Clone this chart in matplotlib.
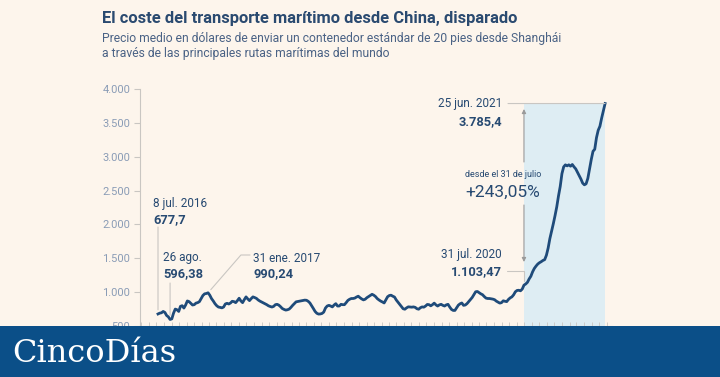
import matplotlib
matplotlib.use('Agg')
import matplotlib.pyplot as plt
import matplotlib.dates as mdates
import matplotlib.transforms as mtrans
from matplotlib.patches import Rectangle
from matplotlib.ticker import FuncFormatter
import pandas as pd

# weekly container price, USD (8 jul. 2016 - 25 jun. 2021)
start_date = '2016-07-08'
values = [
    677.7, 690, 695, 715, 700, 655, 635, 596.38, 605, 690,
    750, 740, 715, 790, 800, 765, 810, 870, 860, 835,
    810, 815, 838, 845, 860, 905, 950, 975, 980, 990.24,
    955, 905, 870, 830, 800, 780, 775, 768, 780, 825,
    835, 825, 840, 865, 860, 845, 875, 910, 870, 845,
    890, 930, 900, 875, 905, 930, 920, 908, 885, 868,
    855, 842, 830, 815, 798, 788, 780, 790, 815, 820,
    808, 785, 758, 745, 735, 740, 750, 775, 805, 830,
    857, 862, 868, 872, 878, 882, 880, 865, 840, 800,
    758, 715, 688, 676, 678, 685, 705, 765, 795, 805,
    795, 782, 810, 830, 795, 795, 820, 815, 815, 845,
    878, 895, 906, 906, 912, 928, 940, 918, 900, 886,
    895, 918, 935, 952, 968, 955, 935, 905, 885, 868,
    855, 840, 885, 932, 950, 955, 940, 928, 885, 852,
    818, 788, 755, 748, 768, 783, 780, 778, 782, 775,
    755, 748, 770, 782, 778, 795, 818, 815, 798, 815,
    838, 812, 795, 812, 820, 805, 795, 812, 820, 780,
    745, 730, 730, 770, 808, 828, 840, 805, 810, 830,
    860, 890, 921, 962, 1005, 1010, 992, 975, 962, 935,
    912, 906, 906, 902, 897, 888, 867, 852, 838, 845,
    872, 865, 860, 892, 915, 930, 960, 1005, 1025, 1028,
    1020, 1045, 1103.47, 1120, 1145, 1195, 1235, 1300, 1350, 1385,
    1415, 1435, 1450, 1468, 1480, 1545, 1650, 1790, 1900, 2010,
    2130, 2260, 2420, 2560, 2750, 2850, 2880, 2865, 2880, 2860,
    2885, 2850, 2820, 2770, 2720, 2670, 2610, 2585, 2600, 2680,
    2820, 2960, 3080, 3110, 3280, 3390, 3450, 3570, 3680, 3785.4,
]
dates = pd.date_range(start_date, periods=len(values), freq='7D')
y_ticks = [500, 1000, 1500, 2000, 2500, 3000, 3500, 4000]
i_jul16, i_ago16, i_ene17, i_jul20 = 0, 7, 29, 212

BG = '#fdf5ec'
NAVY = '#274a72'
LINE = '#1f4b7a'
GRAY = '#c9c6c2'
SHADE = '#deedf3'
BAND = '#0b4f88'

W, H = 720, 377
fig = plt.figure(figsize=(W / 100, H / 100), dpi=100, facecolor=BG)
plt.rcParams['font.family'] = ['Roboto', 'DejaVu Sans']
# pixel coords measured from the top-left corner
P = mtrans.Affine2D().scale(1 / W, -1 / H).translate(0, 1) + fig.transFigure

ax = fig.add_axes([140 / W, (H - 326) / H, (612 - 140) / W, (326 - 89) / H])
ax.set_facecolor(BG)
d = mdates.date2num(dates)
ax.plot(d, values, color=LINE, lw=2.0, solid_joinstyle='round', zorder=3)
ax.fill_between([d[i_jul20], d[-1]], 0, values[-1], color=SHADE, lw=0, zorder=1)

ax.set_ylim(500, 4000)
ax.set_xlim(d[0] - 73, d[-1] + 28)
ax.set_yticks(y_ticks)
ax.yaxis.set_major_formatter(FuncFormatter(lambda v, p: f'{int(v):,}'.replace(',', '.')))
ax.tick_params(axis='y', length=4, width=0.8, color=GRAY, labelcolor='#8a9cb6',
               labelsize=8, pad=3)
ax.xaxis.set_major_locator(mdates.MonthLocator())
ax.tick_params(axis='x', length=3, width=0.6, color=GRAY, labelbottom=False, direction='in')
for s in ['top', 'right']:
    ax.spines[s].set_visible(False)
ax.spines['left'].set_color(GRAY)
ax.spines['bottom'].set_color(GRAY)

bx = mtrans.blended_transform_factory(ax.transData, P)
by = mtrans.blended_transform_factory(P, ax.transData)
lead = dict(arrowstyle='-', color=GRAY, lw=0.8, shrinkA=0, shrinkB=3)

ax.annotate('', xy=(d[i_jul16], values[i_jul16]), xytext=(d[i_jul16], 227),
            textcoords=bx, arrowprops=lead)
ax.annotate('', xy=(d[i_ago16], values[i_ago16]), xytext=(d[i_ago16], 283),
            textcoords=bx, arrowprops=lead)
ax.annotate('', xy=(d[i_ene17], values[i_ene17]), xytext=(250, 255), textcoords=P,
            arrowprops=dict(lead, connectionstyle='angle,angleA=0,angleB=49,rad=0'))
ax.annotate('', xy=(d[i_jul20], values[i_jul20]), xytext=(507, 271), textcoords=P,
            arrowprops=dict(lead, connectionstyle='angle,angleA=0,angleB=90,rad=0'))
ax.annotate('', xy=(d[-1], values[-1]), xytext=(508, values[-1]), textcoords=by,
            arrowprops=dict(lead, shrinkB=0))
arr = dict(arrowstyle='-|>', color='#9a9a9a', lw=0.8, mutation_scale=6, shrinkA=0, shrinkB=0)
ax.annotate('', xy=(d[i_jul20], 109), xycoords=bx, xytext=(d[i_jul20], 162),
            textcoords=bx, arrowprops=arr)
ax.annotate('', xy=(d[i_jul20], 262), xycoords=bx, xytext=(d[i_jul20], 205),
            textcoords=bx, arrowprops=arr)


def put(x, y, s, **kw):
    kw.setdefault('color', NAVY)
    kw.setdefault('size', 8.5)
    fig.text(x, y, s, transform=P, va='baseline', **kw)


put(102, 23, 'El coste del transporte marítimo desde China, disparado',
    size=11.9, weight='bold', color='#2a4a70')
put(102, 42, 'Precio medio en dólares de enviar un contenedor estándar de 20 pies desde Shanghái',
    size=8.7, color='#4a6285')
put(102, 57, 'a través de las principales rutas marítimas del mundo', size=8.7, color='#4a6285')

put(153, 207, '8 jul. 2016')
put(153, 223, '677,7', weight='bold', size=9.3)
put(163, 261, '26 ago.')
put(163, 277, '596,38', weight='bold', size=9.3)
put(253, 262, '31 ene. 2017')
put(253, 277, '990,24', weight='bold', size=9.3)
put(502, 107, '25 jun. 2021', ha='right')
put(502, 125, '3.785,4', weight='bold', size=9.3, ha='right')
put(503, 177, 'desde el 31 de julio', ha='center', size=6.5)
put(503, 197, '+243,05%', ha='center', size=12.5)
put(502, 258, '31 jul. 2020', ha='right')
put(502, 275, '1.103,47', weight='bold', size=9.3, ha='right')

fig.patches.append(Rectangle((0, 0), 1, 51 / H, transform=fig.transFigure,
                             facecolor=BAND, lw=0, zorder=10))
fig.text(12, 362, 'CincoDías', transform=P, family='DejaVu Serif', size=23,
         color='white', va='baseline', zorder=11)

fig.savefig('out.png', dpi=100, facecolor=BG)
